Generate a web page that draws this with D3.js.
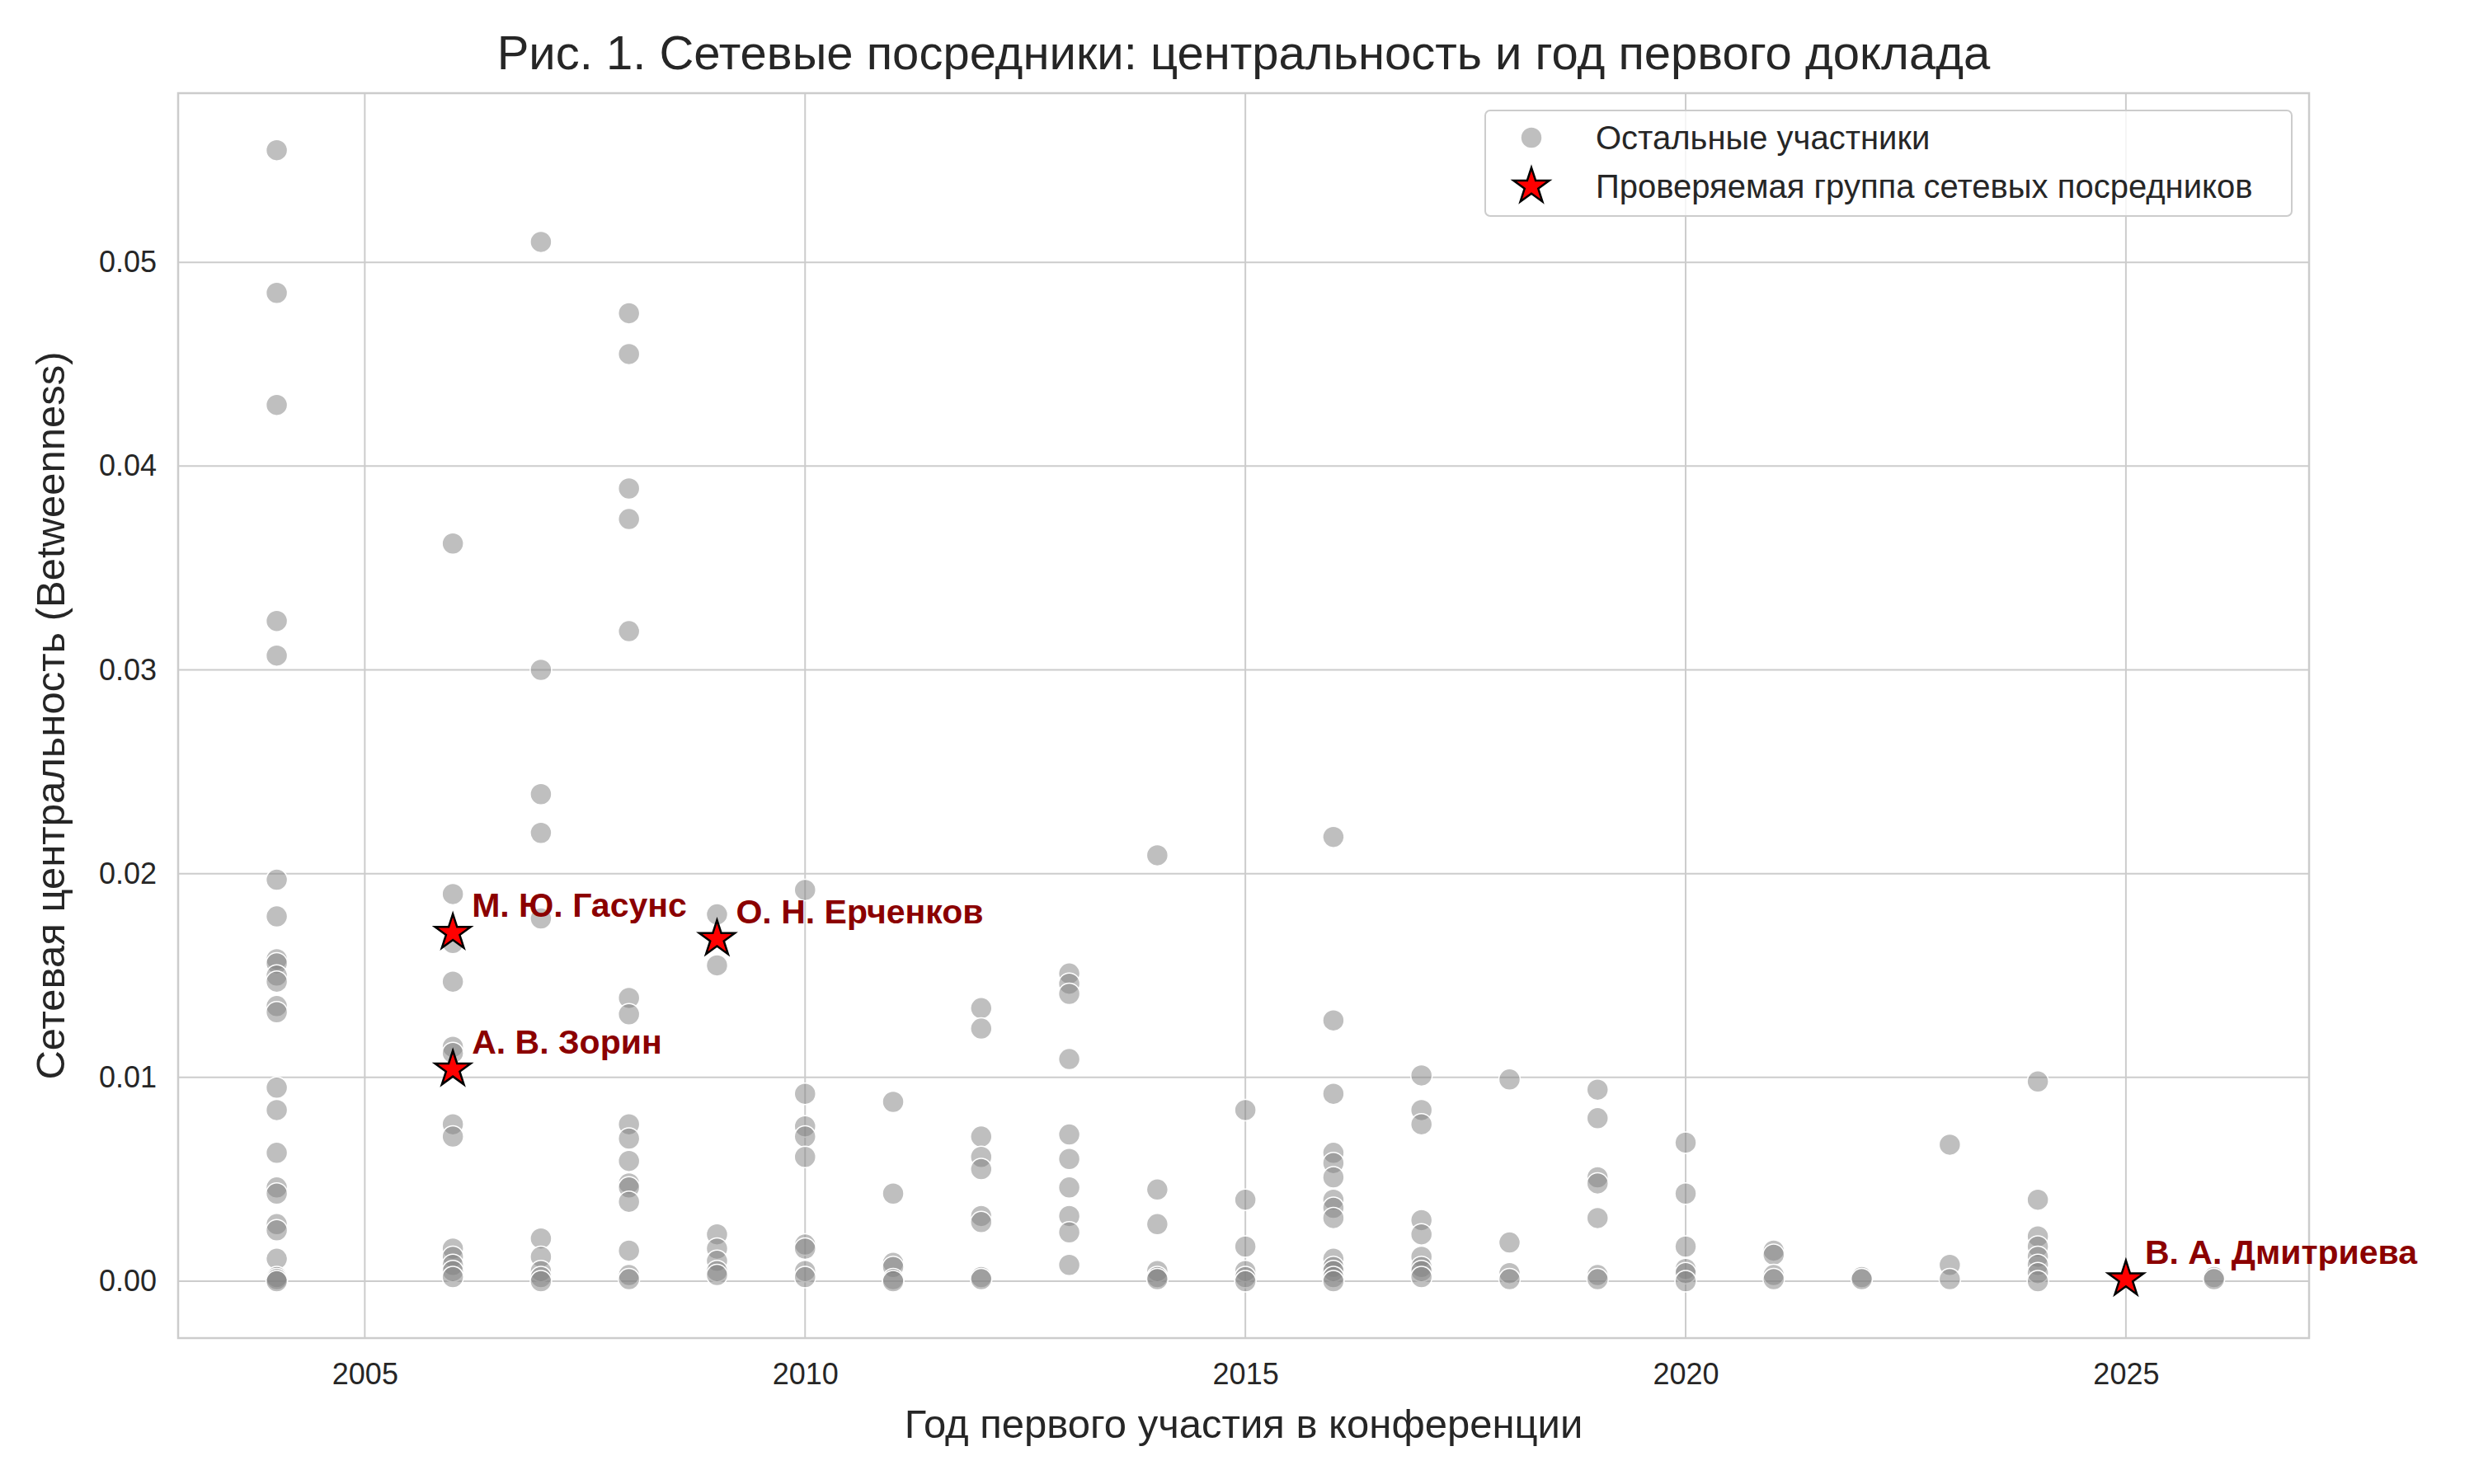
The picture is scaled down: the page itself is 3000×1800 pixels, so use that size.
<!DOCTYPE html>
<html><head><meta charset="utf-8">
<script src="https://cdn.jsdelivr.net/npm/d3@7"></script>
<style>body{margin:0;background:#fff}svg{font-family:"Liberation Sans",Arial,sans-serif}</style>
</head><body><svg id="c" width="3000" height="1800"></svg>
<script>
const otherYears = [2004,2006,2007,2008,2009,2010,2011,2012,2013,2014,2015,2016,2017,2018,2019,2020,2021,2022,2023,2024,2026];
const otherValues = [
 [0.0555,0.0485,0.043,0.0324,0.0307,0.0197,0.0179,0.0158,0.0156,0.015,0.0147,0.0135,0.0132,0.0095,0.0084,0.0063,0.0046,0.0043,0.0028,0.0025,0.0011,0.0002,0.0001,0],
 [0.0362,0.019,0.0166,0.0147,0.0115,0.0112,0.0077,0.0071,0.0016,0.0012,0.0008,0.0005,0.0002],
 [0.051,0.030,0.0239,0.022,0.0178,0.0021,0.0012,0.0005,0.0002,0],
 [0.0475,0.0455,0.0389,0.0374,0.0319,0.0139,0.0131,0.0077,0.007,0.0059,0.0048,0.0046,0.0039,0.0015,0.0003,0.0001],
 [0.018,0.0155,0.0023,0.0016,0.001,0.0005,0.0003],
 [0.0192,0.0092,0.0076,0.0071,0.0061,0.0018,0.0016,0.0005,0.0002],
 [0.0088,0.0043,0.0009,0.0007,0.0001,0],
 [0.0134,0.0124,0.0071,0.0061,0.0055,0.0032,0.0029,0.0002,0.0001],
 [0.0151,0.0146,0.0141,0.0109,0.0072,0.006,0.0046,0.0032,0.0024,0.0008],
 [0.0209,0.0045,0.0028,0.0005,0.0002,0.0001],
 [0.0084,0.004,0.0017,0.0005,0.0002,0],
 [0.0218,0.0128,0.0092,0.0063,0.0058,0.0051,0.004,0.0036,0.0031,0.0011,0.0007,0.0005,0.0002,0],
 [0.0101,0.0084,0.0077,0.003,0.0023,0.0012,0.0007,0.0005,0.0002],
 [0.0099,0.0019,0.0004,0.0001],
 [0.0094,0.008,0.0051,0.0048,0.0031,0.0003,0.0001],
 [0.0068,0.0043,0.0017,0.0006,0.0004,0],
 [0.0015,0.0013,0.0003,0.0001],
 [0.0002,0.0001],
 [0.0067,0.0008,0.0001],
 [0.0098,0.004,0.0022,0.0017,0.0012,0.0008,0.0004,0],
 [0.0002,0.0001]
];
const groupNames = ["М. Ю. Гасунс","А. В. Зорин","О. Н. Ерченков","В. А. Дмитриева"];
const groupYears = [2006,2006,2009,2025];
const groupValues = [0.0171,0.0104,0.0168,0.0001];
const xTicks = [2005,2010,2015,2020,2025];
const yTicks = [0,0.01,0.02,0.03,0.04,0.05];

const svg = d3.select("#c");
const L=216,R=2800,T=113,B=1623;
const x = d3.scaleLinear().domain([2002.88,2027.08]).range([L,R]);
const y = d3.scaleLinear().domain([-0.00279,0.0583]).range([B,T]);
const grid = "#cccccc";
svg.append("g").selectAll("line").data(xTicks).join("line")
 .attr("x1",d=>x(d)).attr("x2",d=>x(d)).attr("y1",T).attr("y2",B).attr("stroke",grid).attr("stroke-width",2);
svg.append("g").selectAll("line").data(yTicks).join("line")
 .attr("x1",L).attr("x2",R).attr("y1",d=>y(d)).attr("y2",d=>y(d)).attr("stroke",grid).attr("stroke-width",2);
svg.append("rect").attr("x",L).attr("y",T).attr("width",R-L).attr("height",B-T).attr("fill","none").attr("stroke",grid).attr("stroke-width",2.5);
const xa = svg.append("g").attr("transform",`translate(0,${B})`).call(d3.axisBottom(x).tickValues(xTicks).tickFormat(d3.format("d")).tickSize(0).tickPadding(30));
const ya = svg.append("g").attr("transform",`translate(${L},0)`).call(d3.axisLeft(y).tickValues(yTicks).tickFormat(d3.format(".2f")).tickSize(0).tickPadding(26));
[xa,ya].forEach(a=>{a.select(".domain").remove();a.selectAll("text").attr("font-size",36).attr("fill","#262626").attr("font-family","Liberation Sans, Arial, sans-serif");});

const pts=[];otherYears.forEach((yr,i)=>otherValues[i].forEach(v=>pts.push([yr,v])));
svg.append("g").selectAll("circle").data(pts).join("circle")
 .attr("cx",d=>x(d[0])).attr("cy",d=>y(d[1])).attr("r",13)
 .attr("fill","rgba(128,128,128,0.5)").attr("stroke","#fff").attr("stroke-width",1.5);
const star = d3.symbol().type(d3.symbolStar).size(580);
svg.append("g").selectAll("path").data(groupYears).join("path")
 .attr("transform",(d,i)=>`translate(${x(d)},${y(groupValues[i])})`).attr("d",star)
 .attr("fill","#ff0000").attr("stroke","#000").attr("stroke-width",2.5);
svg.append("g").selectAll("text").data(groupNames).join("text")
 .attr("x",(d,i)=>x(groupYears[i])+23).attr("y",(d,i)=>y(groupValues[i])-19)
 .attr("font-size",41).attr("font-weight","bold").attr("fill","#8b0000").text(d=>d);

svg.append("text").attr("x",(L+R)/2).attr("y",84).attr("text-anchor","middle").attr("font-size",58).attr("fill","#262626").text("Рис. 1. Сетевые посредники: центральность и год первого доклада");
svg.append("text").attr("x",(L+R)/2).attr("y",1744).attr("text-anchor","middle").attr("font-size",49).attr("fill","#262626").text("Год первого участия в конференции");
svg.append("text").attr("transform",`translate(78,${(T+B)/2}) rotate(-90)`).attr("text-anchor","middle").attr("font-size",49).attr("fill","#262626").text("Сетевая центральность (Betweenness)");

const lg = svg.append("g");
lg.append("rect").attr("x",1801).attr("y",134).attr("width",978).attr("height",128).attr("rx",6).attr("fill","rgba(255,255,255,0.8)").attr("stroke",grid).attr("stroke-width",2);
lg.append("circle").attr("cx",1857).attr("cy",167).attr("r",13).attr("fill","rgba(128,128,128,0.5)").attr("stroke","#fff").attr("stroke-width",1.5);
lg.append("path").attr("transform","translate(1857,226)").attr("d",star).attr("fill","#ff0000").attr("stroke","#000").attr("stroke-width",2.5);
lg.append("text").attr("x",1935).attr("y",181).attr("font-size",40).attr("fill","#262626").text("Остальные участники");
lg.append("text").attr("x",1935).attr("y",240).attr("font-size",40).attr("fill","#262626").text("Проверяемая группа сетевых посредников");
</script></body></html>
